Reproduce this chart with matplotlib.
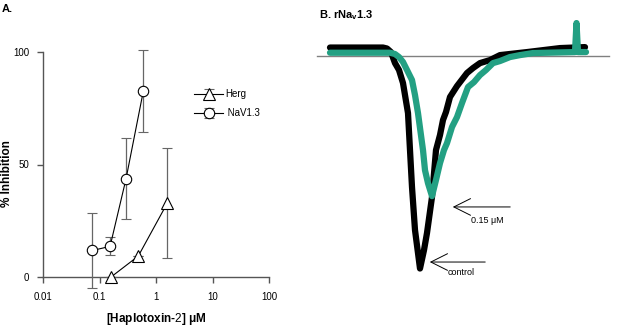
import numpy as np
import matplotlib
matplotlib.use('Agg')
from matplotlib import pyplot as plt, ticker

plt.rcParams['font.family'] = ['Liberation Sans', 'DejaVu Sans']
plt.rcParams['mathtext.fontset'] = 'custom'
plt.rcParams['mathtext.rm'] = 'Liberation Sans'
plt.rcParams['mathtext.bf'] = 'Liberation Sans:bold'
plt.rcParams['mathtext.it'] = 'Liberation Sans:italic:bold'

# A. 浓度-抑制率数据
conc_nav = [0.074, 0.152, 0.291, 0.589]
inh_nav = [11.8, 13.6, 43.6, 82.6]
err_nav = [16.5, 4.0, 18.0, 18.3]

conc_herg = [0.158, 0.48, 1.57]
inh_herg = [0.0, 9.3, 32.9]
err_herg = [0.0, 0.0, 24.6]

x_ticks = [0.01, 0.1, 1, 10, 100]
x_ticklabels = ['0.01', '0.1', '1', '10', '100']
y_ticks = [0, 50, 100]

# B. 电流曲线 (ms, nA)
t_control = [0.0, 2.12, 2.28, 2.44, 2.6, 2.76, 2.92, 3.12, 3.2, 3.28, 3.4, 3.6,
             3.76, 3.88, 4.08, 4.24, 4.4, 4.52, 4.64, 4.8, 5.08, 5.48, 5.72, 6.0,
             6.4, 6.8, 7.88, 9.2, 10.2]
i_control = [0.076, 0.076, 0.067, 0.034, -0.068, -0.132, -0.253, -0.531, -0.874,
             -1.216, -1.614, -1.97, -1.80, -1.641, -1.308, -0.873, -0.734, -0.595,
             -0.521, -0.382, -0.281, -0.160, -0.114, -0.068, -0.040, 0.006, 0.034,
             0.071, 0.080]
t_toxin = [0.0, 2.4, 2.6, 2.76, 2.92, 3.08, 3.28, 3.4, 3.52, 3.72, 3.8, 3.92,
           4.08, 4.24, 4.4, 4.56, 4.68, 4.88, 5.08, 5.28, 5.52, 5.76, 6.0, 6.24,
           6.52, 6.8, 7.2, 7.6, 8.12, 9.8, 9.86, 9.92, 10.24]
i_toxin = [0.028, 0.028, 0.016, -0.012, -0.058, -0.132, -0.225, -0.364, -0.531,
           -0.874, -1.06, -1.18, -1.30, -1.15, -0.994, -0.873, -0.809, -0.660,
           -0.568, -0.438, -0.290, -0.244, -0.179, -0.132, -0.068, -0.049, -0.012,
           0.006, 0.025, 0.034, 0.303, 0.034, 0.034]

W, H = 621, 328
fig = plt.figure(figsize=(W / 100, H / 100), dpi=100)

# ---------- 左图 ----------
ax = fig.add_axes([43.3 / W, (H - 277) / H, 226 / W, 225 / H])
axis_gray = '#555555'
ax.errorbar(conc_herg, inh_herg, yerr=err_herg, color='black', ecolor='#666666',
            elinewidth=0.9, capsize=3.5, capthick=0.9, lw=0.8, marker='^',
            markersize=8, mfc='white', mec='black', mew=0.8, label='Herg',
            clip_on=False, zorder=3)
ax.errorbar(conc_nav, inh_nav, yerr=err_nav, color='black', ecolor='#666666',
            elinewidth=0.9, capsize=3.5, capthick=0.9, lw=0.8, marker='o',
            markersize=7.5, mfc='white', mec='black', mew=0.8, label=' NaV1.3',
            clip_on=False, zorder=3)
for c in ax.get_children():
    c.set_clip_on(False)

ax.set_xscale('log')
ax.set_xlim(0.01, 100)
ax.set_ylim(0, 100)
ax.set_xticks(x_ticks)
ax.set_xticklabels(x_ticklabels)
ax.xaxis.set_minor_locator(ticker.NullLocator())
ax.set_yticks(y_ticks)
ax.spines['top'].set_visible(False)
ax.spines['right'].set_visible(False)
for s in ['left', 'bottom']:
    ax.spines[s].set_color(axis_gray)
    ax.spines[s].set_linewidth(1.0)
ax.tick_params(axis='both', direction='out', length=4, width=1.0, color=axis_gray,
               labelsize=7)
ax.tick_params(axis='x', pad=7)
ax.tick_params(axis='y', pad=6)
ax.set_xlabel(r'[Haplotoxin-$\mathit{2}$] μM', fontsize=8.5, fontweight='bold', labelpad=6)
ax.set_ylabel('% Inhibition', fontsize=8.5, fontweight='bold')
ax.yaxis.set_label_coords(-0.133, 0.46)
ax.legend(loc='upper left', bbox_to_anchor=(0.645, 0.855), frameon=False, fontsize=7,
          handlelength=3.0, handletextpad=0.2, labelspacing=0.9, borderpad=0)
fig.text(2 / W, 1 - 9 / H, 'A.', fontsize=8, fontweight='bold', va='center')

# ---------- 右图 ----------
bx = fig.add_axes([310 / W, (H - 290) / H, 305 / W, 270 / H])
bx.set_xlim(-0.8, 11.4)
bx.set_ylim(-2.169, 0.331)
bx.axis('off')
bx.axhline(0, xmin=0.023, xmax=0.98, color='#808080', lw=1.0, zorder=1)
bx.plot(t_control, i_control, color='black', lw=4.5, solid_joinstyle='round',
        solid_capstyle='round', zorder=2)
bx.plot(t_toxin, i_toxin, color='#23a083', lw=4.5, solid_joinstyle='round',
        solid_capstyle='round', zorder=3)

arrow = dict(arrowstyle='->', color='black', lw=0.7, mutation_scale=30)
bx.annotate('', xy=(4.8, -1.40), xytext=(7.32, -1.40), arrowprops=arrow)
bx.text(5.64, -1.53, '0.15 μM', fontsize=6.5, va='center', ha='left')
bx.annotate('', xy=(3.88, -1.91), xytext=(6.32, -1.91), arrowprops=arrow)
bx.text(4.72, -2.01, 'control', fontsize=6.5, va='center', ha='left')

fig.text(319 / W, 1 - 15 / H, r'B. rNa$_{\mathbf{v}}$1.3', fontsize=8, fontweight='bold',
         va='center')

fig.savefig('out.png', dpi=100)
